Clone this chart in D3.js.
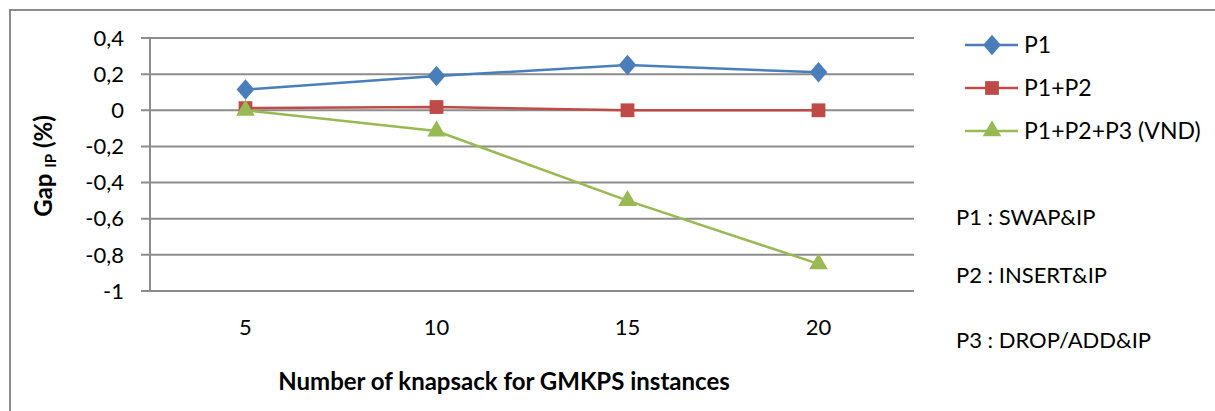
<!DOCTYPE html>
<meta charset="utf-8">
<style>
body { margin: 0; background: #fff; }
text { font-family: Lato, "Open Sans", sans-serif; fill: #000; }
.grid line { stroke: #8c8c8c; stroke-width: 2px; }
</style>
<body>
<svg id="chart" width="1215" height="411"></svg>
<script src="https://d3js.org/d3.v7.min.js"></script>
<script>

const categories = ["5", "10", "15", "20"]
const p1 = [0.115, 0.19, 0.25, 0.21]
const p1p2 = [0.012, 0.018, 0, 0]
const p1p2p3 = [0, -0.115, -0.5, -0.85]
const yTicks = [0.4, 0.2, 0, -0.2, -0.4, -0.6, -0.8, -1]
const seriesNames = ["P1", "P1+P2", "P1+P2+P3 (VND)"]
const notes = ["P1 : SWAP&IP", "P2 : INSERT&IP", "P3 : DROP/ADD&IP"]

const width = 1215, height = 411
const svg = d3.select("#chart")

// outer chart border
svg.append("path")
    .attr("d", "M10,411V10H1215")
    .attr("fill", "none").attr("stroke", "#8c8c8c").attr("stroke-width", 2)

const plotLeft = 150, plotRight = 914, plotTop = 38, plotBottom = 291

const x = d3.scalePoint().domain(categories).range([plotLeft, plotRight]).padding(0.5)
const y = d3.scaleLinear().domain([-1, 0.4]).range([plotBottom, plotTop])

const fmt = d => d === 0 ? "0" : String(d).replace(".", ",")

// gridlines with tick marks to the left
svg.append("g").attr("class", "grid")
  .selectAll("line").data(yTicks).join("line")
    .attr("x1", plotLeft - 9).attr("x2", plotRight)
    .attr("y1", d => y(d)).attr("y2", d => y(d))

svg.append("line")
    .attr("x1", plotLeft).attr("x2", plotLeft).attr("y1", plotTop).attr("y2", plotBottom)
    .attr("stroke", "#8c8c8c").attr("stroke-width", 2)

svg.append("g").selectAll("text").data(yTicks).join("text")
    .attr("x", plotLeft - 26).attr("y", d => y(d)).attr("dy", "0.35em")
    .attr("text-anchor", "end").attr("font-size", 22)
    .text(fmt)

svg.append("g").selectAll("text").data(categories).join("text")
    .attr("x", d => x(d)).attr("y", 327).attr("dy", "0.35em")
    .attr("text-anchor", "middle").attr("font-size", 22)
    .text(d => d)

// axis titles
svg.append("text")
    .attr("x", 504).attr("y", 382).attr("dy", "0.35em")
    .attr("text-anchor", "middle").attr("font-size", 24).attr("font-weight", "bold")
    .text("Number of knapsack for GMKPS instances")

const yt = svg.append("text")
    .attr("transform", "translate(52,166) rotate(-90)")
    .attr("text-anchor", "middle").attr("font-size", 24).attr("font-weight", "bold")
yt.append("tspan").text("Gap ")
yt.append("tspan").attr("font-size", 15).attr("dy", 4).text("IP")
yt.append("tspan").attr("dy", -4).text(" (%)")

const series = [
  {name: seriesNames[0], values: p1, color: "#4a7ebb", symbol: d3.symbolDiamond, size: 150},
  {name: seriesNames[1], values: p1p2, color: "#be4b48", symbol: d3.symbolSquare, size: 190},
  {name: seriesNames[2], values: p1p2p3, color: "#98b954", symbol: d3.symbolTriangle, size: 150}
]

// diamond in d3 is tall; squash it horizontally a bit
function marker(g, s) {
  g.append("path")
    .attr("d", d3.symbol().type(s.symbol).size(s.size)())
    .attr("fill", s.color)
    .attr("transform", s.symbol === d3.symbolDiamond ? "scale(1.35,0.9)" : null)
}

const line = d3.line().x((d, i) => x(categories[i])).y(d => y(d))

series.forEach(s => {
  svg.append("path")
      .attr("d", line(s.values))
      .attr("fill", "none").attr("stroke", s.color).attr("stroke-width", 2.5)
  s.values.forEach((v, i) => {
    const g = svg.append("g").attr("transform", `translate(${x(categories[i])},${y(v)})`)
    marker(g, s)
  })
})

// legend
series.forEach((s, i) => {
  const ly = 45 + i * 43
  svg.append("line")
      .attr("x1", 965).attr("x2", 1018).attr("y1", ly).attr("y2", ly)
      .attr("stroke", s.color).attr("stroke-width", 2.5)
  const g = svg.append("g").attr("transform", `translate(992,${ly})`)
  marker(g, s)
  svg.append("text")
      .attr("x", 1024).attr("y", ly).attr("dy", "0.35em")
      .attr("font-size", 23)
      .text(s.name)
})

// text box lines are not evenly spaced in the original
const noteY = [217, 275, 340]
svg.append("g").selectAll("text").data(notes).join("text")
    .attr("x", 956).attr("y", (d, i) => noteY[i]).attr("dy", "0.35em")
    .attr("font-size", 22)
    .text(d => d)

</script>
</body>
